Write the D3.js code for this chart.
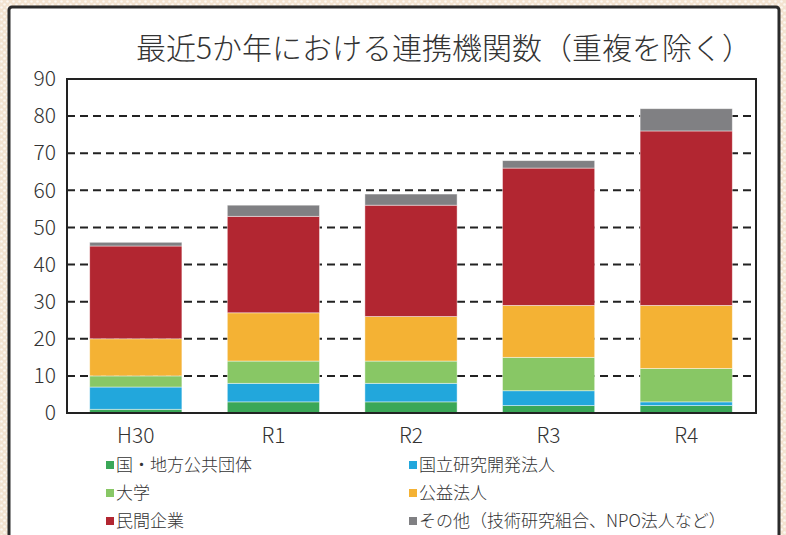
<!DOCTYPE html>
<html>
<head>
<meta charset="utf-8">
<script src="https://d3js.org/d3.v7.min.js"></script>
<style>
body { margin: 0; }
svg text { font-family: "Noto Sans CJK JP", "Noto Sans", sans-serif; fill: #333; font-weight: 300; }
</style>
</head>
<body>
<div id="chart"></div>
<script>
// data
var years = ["H30", "R1", "R2", "R3", "R4"];
var seriesNames = ["国・地方公共団体", "国立研究開発法人", "大学", "公益法人", "民間企業", "その他（技術研究組合、NPO法人など）"];
var govt    = [1, 3, 3, 2, 2];
var natlab  = [6, 5, 5, 4, 1];
var univ    = [3, 6, 6, 9, 9];
var pubcorp = [10, 13, 12, 14, 17];
var company = [25, 26, 30, 37, 47];
var other   = [1, 3, 3, 2, 6];
var yTicks = [0, 10, 20, 30, 40, 50, 60, 70, 80, 90];
var colors = ["#3aa757", "#22a7dc", "#88c765", "#f4b234", "#b22631", "#808083"];

var width = 786, height = 535;
var margin = {left: 67, right: 30, top: 79, bottom: 122};

var svg = d3.select("#chart").append("svg")
    .attr("width", width).attr("height", height);

// beige dotted background
var pat = svg.append("defs").append("pattern")
    .attr("id", "dots").attr("width", 6).attr("height", 6)
    .attr("patternUnits", "userSpaceOnUse");
pat.append("rect").attr("width", 6).attr("height", 6).attr("fill", "#f3e3d0");
pat.append("circle").attr("cx", 1.5).attr("cy", 1.5).attr("r", 1.3).attr("fill", "#fdf8f2");
pat.append("circle").attr("cx", 4.5).attr("cy", 4.5).attr("r", 1.3).attr("fill", "#fdf8f2");
svg.append("rect").attr("width", width).attr("height", height).attr("fill", "url(#dots)");

// white panel with dark border
svg.append("rect")
    .attr("x", 9).attr("y", 7).attr("width", 770).attr("height", 545)
    .attr("rx", 3)
    .attr("fill", "#fff").attr("stroke", "#2b2b2b").attr("stroke-width", 3);

svg.append("text")
    .attr("x", 444).attr("y", 59)
    .attr("text-anchor", "middle")
    .style("font-size", "30px")
    .text("最近5か年における連携機関数（重複を除く）");

var rows = years.map(function(y, i) {
  return {year: y, s0: govt[i], s1: natlab[i], s2: univ[i], s3: pubcorp[i], s4: company[i], s5: other[i]};
});
var keys = ["s0", "s1", "s2", "s3", "s4", "s5"];
var stacked = d3.stack().keys(keys)(rows);

var x = d3.scaleBand().domain(years)
    .range([margin.left, width - margin.right - 1])
    .paddingInner(0.33).paddingOuter(0.165);
var y = d3.scaleLinear().domain([0, 90]).range([height - margin.bottom, margin.top]);

// dashed grid
svg.append("g").selectAll("line")
  .data(yTicks.filter(function(t) { return t > 0 && t < 90; }))
  .join("line")
    .attr("x1", margin.left).attr("x2", width - margin.right)
    .attr("y1", function(d) { return y(d); }).attr("y2", function(d) { return y(d); })
    .attr("stroke", "#222").attr("stroke-width", 2)
    .attr("stroke-dasharray", "8,5");

// bars
svg.append("g").selectAll("g")
  .data(stacked)
  .join("g")
    .attr("fill", function(d, i) { return colors[i]; })
  .selectAll("rect")
  .data(function(d) { return d; })
  .join("rect")
    .attr("x", function(d) { return x(d.data.year); })
    .attr("width", x.bandwidth())
    .attr("y", function(d) { return y(d[1]); })
    .attr("height", function(d) { return y(d[0]) - y(d[1]); })
    .attr("stroke", "rgba(255,255,255,0.55)").attr("stroke-width", 0.8);

// plot frame
svg.append("rect")
    .attr("x", margin.left).attr("y", margin.top)
    .attr("width", width - margin.right - margin.left)
    .attr("height", height - margin.bottom - margin.top)
    .attr("fill", "none").attr("stroke", "#222").attr("stroke-width", 2);

// y axis
var yAxis = svg.append("g")
    .attr("transform", "translate(" + margin.left + ",0)")
    .call(d3.axisLeft(y).tickValues(yTicks).tickSize(0).tickPadding(11));
yAxis.select(".domain").remove();
yAxis.selectAll("text").style("font-size", "21px").attr("fill", "#333");

// x axis
var xAxis = svg.append("g")
    .attr("transform", "translate(0," + (height - margin.bottom) + ")")
    .call(d3.axisBottom(x).tickSize(0).tickPadding(15));
xAxis.select(".domain").remove();
xAxis.selectAll("text").style("font-size", "21px").attr("fill", "#333");

// legend
var legend = svg.append("g").selectAll("g")
  .data(seriesNames)
  .join("g")
    .attr("transform", function(d, i) {
      return "translate(" + (i % 2 === 0 ? 106 : 409) + "," + (465 + Math.floor(i / 2) * 28) + ")";
    });
legend.append("rect")
    .attr("x", 0).attr("y", -4).attr("width", 8).attr("height", 8)
    .attr("fill", function(d, i) { return colors[i]; });
legend.append("text")
    .attr("x", 10).attr("y", 0).attr("dy", "0.35em")
    .style("font-size", "17px")
    .text(function(d) { return d; });
</script>
</body>
</html>
